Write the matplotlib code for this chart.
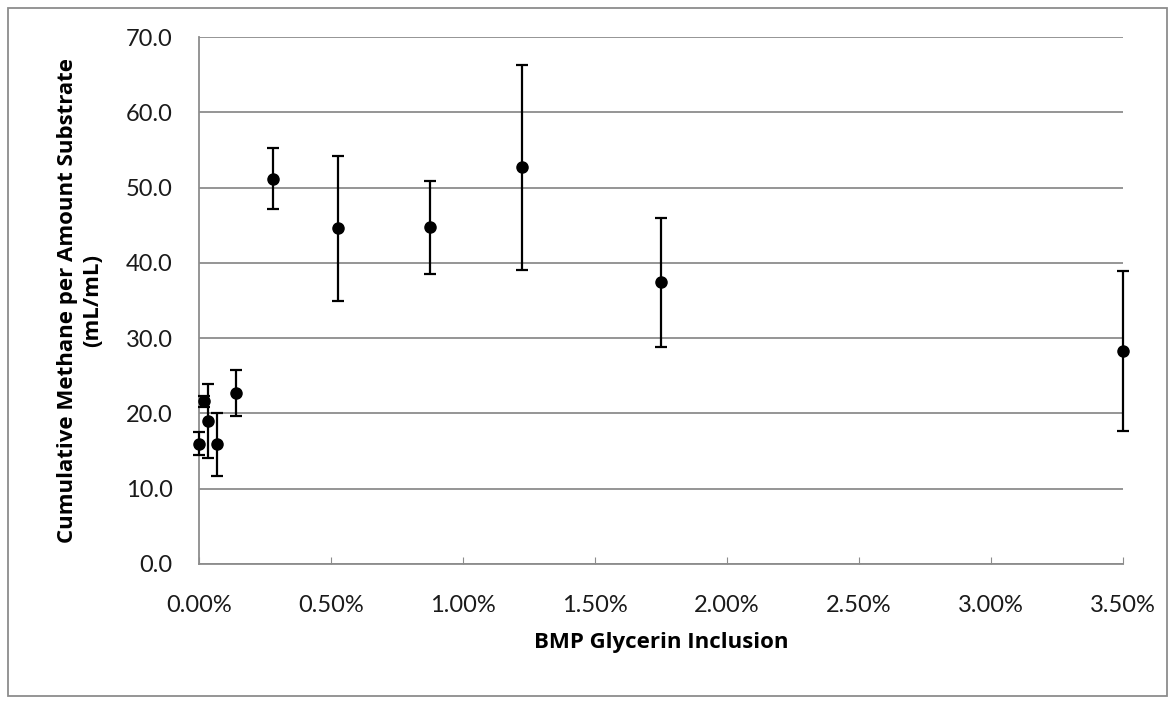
import matplotlib.pyplot as plt
from matplotlib.ticker import FuncFormatter, MultipleLocator
from matplotlib.patches import Rectangle

# glycerin inclusion (%) vs cumulative methane (mL/mL), with error bar half-widths
inclusion = [0.0, 0.0175, 0.035, 0.07, 0.14, 0.28, 0.525, 0.875, 1.225, 1.75, 3.5]
methane = [16.0, 21.6, 19.0, 15.9, 22.7, 51.2, 44.6, 44.7, 52.7, 37.4, 28.3]
err = [1.5, 0.7, 4.9, 4.2, 3.1, 4.0, 9.6, 6.2, 13.6, 8.6, 10.6]

plt.rcParams['font.family'] = ['Lato', 'DejaVu Sans']

fig = plt.figure(figsize=(11.75, 7.04), dpi=100)
ax = fig.add_axes([199 / 1175, 1 - 564 / 704, (1123 - 199) / 1175, (564 - 37) / 704])

ax.errorbar(inclusion, methane, yerr=err, fmt='o', color='black', markersize=8,
            ecolor='black', elinewidth=1.6, capsize=4.2, capthick=1.6, zorder=3,
            clip_on=False)

ax.set_xlim(0, 3.5)
ax.set_ylim(0, 70)
ax.xaxis.set_major_locator(MultipleLocator(0.5))
ax.yaxis.set_major_locator(MultipleLocator(10))
ax.xaxis.set_major_formatter(FuncFormatter(lambda v, p: f'{v:.2f}%'))
ax.yaxis.set_major_formatter(FuncFormatter(lambda v, p: f'{v:.1f}'))

ax.grid(axis='y', color='#8c8c8c', linewidth=1.3)
ax.set_axisbelow(True)
for s in ['top', 'right']:
    ax.spines[s].set_visible(False)
for s in ['left', 'bottom']:
    ax.spines[s].set_color('#8c8c8c')
    ax.spines[s].set_linewidth(1.3)
ax.tick_params(axis='both', color='#8c8c8c', labelsize=17, labelcolor='#1a1a1a')
ax.tick_params(axis='x', direction='in', length=5, pad=22)
ax.tick_params(axis='y', length=0, pad=19)

label_font = dict(family=['Open Sans', 'DejaVu Sans'], fontsize=16, fontweight='bold')
ax.set_xlabel('BMP Glycerin Inclusion', labelpad=12, **label_font)
ax.set_ylabel('Cumulative Methane per Amount Substrate\n(mL/mL)', labelpad=16,
              linespacing=1.3, **label_font)

# outer chart border
fig.patches.append(Rectangle((8 / 1175, 8 / 704), 1 - 16 / 1175, 1 - 16 / 704,
                             transform=fig.transFigure, fill=False,
                             edgecolor='#8c8c8c', linewidth=1.3))

fig.savefig('out.png', dpi=100)
